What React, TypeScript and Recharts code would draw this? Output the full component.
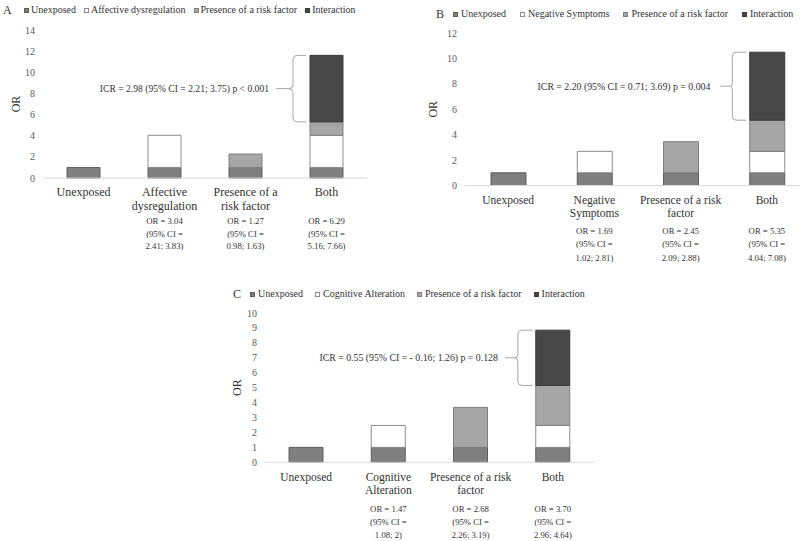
import React from 'react';
import { BarChart, Bar, XAxis, YAxis, ReferenceArea } from 'recharts';

const FONT = "'Liberation Serif', 'Times New Roman', Times, serif";

// ---------- Panel A data ----------
const categoriesA = ['Unexposed', 'Affective dysregulation', 'Presence of a risk factor', 'Both'];
const tickLinesA = [['Unexposed'], ['Affective', 'dysregulation'], ['Presence of a', 'risk factor'], ['Both']];
const unexposedA = [1, 1, 1, 1];
const factorA = [0, 3.04, 0, 3.04];
const riskA = [0, 0, 1.27, 1.27];
const interactionA = [0, 0, 0, 6.29];
const orTextA = [[], ['OR = 3.04', '(95% CI =', '2.41; 3.83)'], ['OR = 1.27', '(95% CI =', '0.98; 1.63)'], ['OR = 6.29', '(95% CI =', '5.16; 7.66)']];
const yTicksA = [0, 2, 4, 6, 8, 10, 12, 14];
const legendA = ['Unexposed', 'Affective dysregulation', 'Presence of a risk factor', 'Interaction'];
const icrA = 'ICR = 2.98 (95% CI = 2.21; 3.75) p < 0.001';

// ---------- Panel B data ----------
const categoriesB = ['Unexposed', 'Negative Symptoms', 'Presence of a risk factor', 'Both'];
const tickLinesB = [['Unexposed'], ['Negative', 'Symptoms'], ['Presence of a risk', 'factor'], ['Both']];
const unexposedB = [1, 1, 1, 1];
const factorB = [0, 1.69, 0, 1.69];
const riskB = [0, 0, 2.45, 2.45];
const interactionB = [0, 0, 0, 5.35];
const orTextB = [[], ['OR = 1.69', '(95% CI =', '1.02; 2.81)'], ['OR = 2.45', '(95% CI =', '2.09; 2.88)'], ['OR = 5.35', '(95% CI =', '4.04; 7.08)']];
const yTicksB = [0, 2, 4, 6, 8, 10, 12];
const legendB = ['Unexposed', 'Negative Symptoms', 'Presence of a risk factor', 'Interaction'];
const icrB = 'ICR = 2.20 (95% CI = 0.71; 3.69) p = 0.004';

// ---------- Panel C data ----------
const categoriesC = ['Unexposed', 'Cognitive Alteration', 'Presence of a risk factor', 'Both'];
const tickLinesC = [['Unexposed'], ['Cognitive', 'Alteration'], ['Presence of a risk', 'factor'], ['Both']];
const unexposedC = [1, 1, 1, 1];
const factorC = [0, 1.47, 0, 1.47];
const riskC = [0, 0, 2.68, 2.68];
const interactionC = [0, 0, 0, 3.70];
const orTextC = [[], ['OR = 1.47', '(95% CI =', '1.08; 2)'], ['OR = 2.68', '(95% CI =', '2.26; 3.19)'], ['OR = 3.70', '(95% CI =', '2.96; 4.64)']];
const yTicksC = [0, 1, 2, 3, 4, 5, 6, 7, 8, 9, 10];
const legendC = ['Unexposed', 'Cognitive Alteration', 'Presence of a risk factor', 'Interaction'];
const icrC = 'ICR = 0.55 (95% CI = - 0.16; 1.26) p = 0.128';

// ---------- styles ----------
const SERIES = [
  { key: 'unexposed', fill: '#7f7f7f', stroke: '#5f5f5f' },
  { key: 'factor', fill: '#ffffff', stroke: '#8c8c8c' },
  { key: 'risk', fill: '#a6a6a6', stroke: '#808080' },
  { key: 'interaction', fill: '#474747', stroke: '#3a3a3a' },
];
const TEXT = '#333333';

type Cfg = any;

const buildData = (cats: string[], u: number[], f: number[], r: number[], i: number[]) =>
  cats.map((name, k) => ({ name, unexposed: u[k], factor: f[k], risk: r[k], interaction: i[k] }));

const Panel = ({ cfg, cats, lines, ors, u, f, r, i, ticks, legend, icr }: Cfg) => {
  const data = buildData(cats, u, f, r, i);
  const last = cats.length - 1;
  const lower = u[last] + f[last] + r[last];
  const top = lower + i[last];

  const Tick = (props: any) => {
    const { x, y, payload } = props;
    let idx = props.index;
    if (idx === undefined) idx = cats.indexOf(payload.value);
    return (
      <g>
        {(lines[idx] || []).map((t: string, k: number) => (
          <text key={'l' + k} x={x} y={y + cfg.line1 + k * cfg.lineGap} textAnchor="middle" dominantBaseline="central"
            fontSize={cfg.tickFont} fill={TEXT} fontFamily={FONT}>{t}</text>
        ))}
        {(ors[idx] || []).map((t: string, k: number) => (
          <text key={'o' + k} x={x} y={y + cfg.orStart + k * cfg.orGap} textAnchor="middle" dominantBaseline="central"
            fontSize={cfg.orFont} fill={TEXT} fontFamily={FONT}>{t}</text>
        ))}
      </g>
    );
  };

  const Brace = (p: any) => {
    const { x, y, width, height } = p;
    const b = cfg.brace;
    const barLeft = x + width / 2 - cfg.barSize / 2;
    const t = y, bt = y + height, mid = (t + bt) / 2;
    const hx = barLeft - b.hook, vx = barLeft - b.vert, tx = barLeft - b.tip, lx = barLeft - b.line;
    const rr = 4;
    const d = `M${hx},${t} L${vx + rr},${t} Q${vx},${t} ${vx},${t + rr} L${vx},${mid - rr} Q${vx},${mid} ${tx},${mid} Q${vx},${mid} ${vx},${mid + rr} L${vx},${bt - rr} Q${vx},${bt} ${vx + rr},${bt} L${hx},${bt}`;
    return (
      <g>
        <path d={d} fill="none" stroke="#a6a6a6" strokeWidth={1} />
        <line x1={lx} y1={mid} x2={tx} y2={mid} stroke="#a6a6a6" strokeWidth={1} />
        <text x={barLeft - b.text} y={mid} textAnchor="end" dominantBaseline="central" fontSize={cfg.icrFont}
          fill={TEXT} fontFamily={FONT}>{icr}</text>
      </g>
    );
  };

  const OrLabel = (p: any) => {
    const vb = p.viewBox || {};
    const cx = vb.x + vb.width + cfg.orX;
    const cy = vb.y + vb.height / 2;
    return (
      <text x={cx} y={cy} transform={`rotate(-90 ${cx} ${cy})`} textAnchor="middle" dominantBaseline="central"
        fontSize={12} fill={TEXT} fontFamily={FONT}>OR</text>
    );
  };

  return (
    <>
      <div style={{ position: 'absolute', left: cfg.left, top: cfg.top }}>
        <BarChart width={cfg.width} height={cfg.height} data={data} margin={cfg.margin}>
          <XAxis dataKey="name" height={cfg.xHeight} interval={0} tickLine={false} tickSize={0} tickMargin={0}
            axisLine={{ stroke: '#d9d9d9' }} tick={<Tick />} />
          <YAxis type="number" domain={[ticks[0], ticks[ticks.length - 1]]} ticks={ticks} interval={0}
            width={cfg.yWidth} axisLine={false} tickLine={false} tickSize={0} tickMargin={8}
            tick={{ fontSize: 10, fill: '#595959', fontFamily: FONT }} label={{ content: <OrLabel /> }} />
          {SERIES.map((s) => (
            <Bar key={s.key} dataKey={s.key} stackId="s" fill={s.fill} stroke={s.stroke} strokeWidth={1}
              barSize={cfg.barSize} isAnimationActive={false} />
          ))}
          <ReferenceArea x1={cats[last]} x2={cats[last]} y1={lower} y2={top} ifOverflow="visible"
            shape={(p: any) => <Brace {...p} />} />
        </BarChart>
      </div>
      <div style={{ position: 'absolute', left: cfg.letter.x, top: cfg.letter.cy - 8, height: 16, lineHeight: '16px',
        fontSize: 12, color: TEXT, fontFamily: FONT }}>{cfg.letter.t}</div>
      <div style={{ position: 'absolute', left: cfg.legend.x, top: cfg.legend.cy - 6, height: 12, display: 'flex',
        alignItems: 'center', whiteSpace: 'nowrap', fontSize: 10, lineHeight: '12px', color: TEXT, fontFamily: FONT }}>
        {legend.map((name: string, k: number) => (
          <div key={name} style={{ display: 'flex', alignItems: 'center', marginRight: k < legend.length - 1 ? cfg.legend.itemGap : 0 }}>
            <span style={{ display: 'inline-block', width: 5, height: 5, boxSizing: 'border-box', background: SERIES[k].fill,
              border: `1px solid ${SERIES[k].stroke}`, marginRight: cfg.legend.sqGap }} />
            <span>{name}</span>
          </div>
        ))}
      </div>
    </>
  );
};

const cfgA = {
  left: 0, top: 0, width: 400, height: 270, margin: { top: 30, right: 33, bottom: 12, left: 8 }, xHeight: 80,
  yWidth: 35, barSize: 33, tickFont: 12, line1: 13.7, lineGap: 14, orStart: 43, orGap: 12.5, orFont: 8.7,
  icrFont: 9.6, orX: -27, brace: { hook: 4, vert: 17, tip: 21, line: 34, text: 41 },
  legend: { x: 24, cy: 10, sqGap: 2, itemGap: 8 }, letter: { x: 3, cy: 10, t: 'A' },
};
const cfgB = {
  left: 400, top: 0, width: 420, height: 270, margin: { top: 33, right: 10, bottom: 4.5, left: 30 }, xHeight: 80,
  yWidth: 35, barSize: 35, tickFont: 11.5, line1: 14.5, lineGap: 13.3, orStart: 45.5, orGap: 13.3, orFont: 8.7,
  icrFont: 9.8, orX: -32, brace: { hook: 3, vert: 17, tip: 19, line: 29, text: 39 },
  legend: { x: 453, cy: 14, sqGap: 3, itemGap: 14 }, letter: { x: 436, cy: 14, t: 'B' },
};
const cfgC = {
  left: 200, top: 270, width: 400, height: 271, margin: { top: 43, right: 6, bottom: 8.7, left: 30 }, xHeight: 70,
  yWidth: 35, barSize: 34, tickFont: 11.5, line1: 14.4, lineGap: 12.8, orStart: 46.7, orGap: 13, orFont: 8.7,
  icrFont: 9.8, orX: -27.5, brace: { hook: 3, vert: 18, tip: 21, line: 31, text: 38 },
  legend: { x: 250, cy: 294, sqGap: 3, itemGap: 12 }, letter: { x: 233, cy: 294, t: 'C' },
};

export default function App() {
  return (
    <div style={{ position: 'absolute', left: 0, top: 0, width: 800, height: 541, overflow: 'hidden', background: '#fff', fontFamily: FONT }}>
      <Panel cfg={cfgA} cats={categoriesA} lines={tickLinesA} ors={orTextA} u={unexposedA} f={factorA} r={riskA}
        i={interactionA} ticks={yTicksA} legend={legendA} icr={icrA} />
      <Panel cfg={cfgB} cats={categoriesB} lines={tickLinesB} ors={orTextB} u={unexposedB} f={factorB} r={riskB}
        i={interactionB} ticks={yTicksB} legend={legendB} icr={icrB} />
      <Panel cfg={cfgC} cats={categoriesC} lines={tickLinesC} ors={orTextC} u={unexposedC} f={factorC} r={riskC}
        i={interactionC} ticks={yTicksC} legend={legendC} icr={icrC} />
    </div>
  );
}
